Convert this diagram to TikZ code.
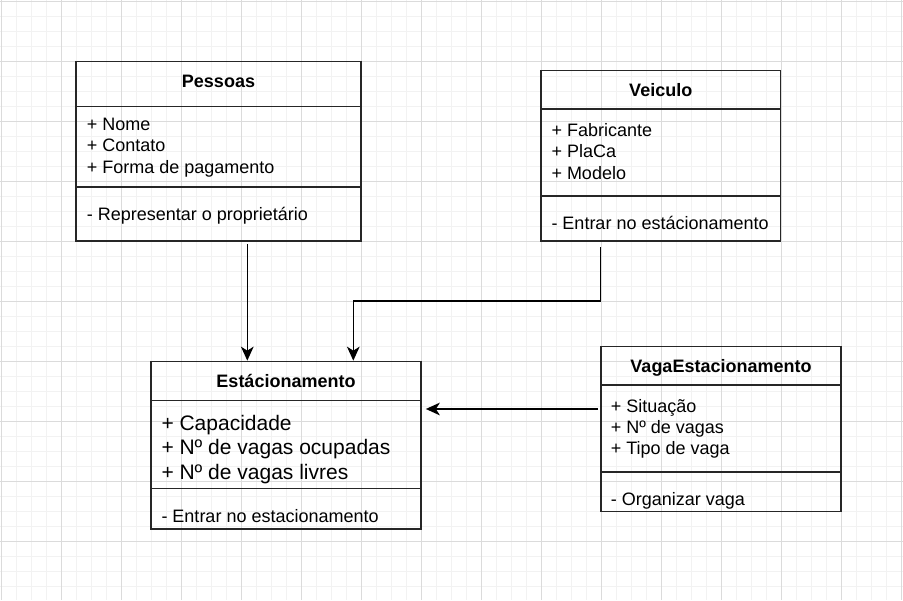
\documentclass[tikz,border=0pt]{standalone}
\usepackage{fontspec}
\setmainfont{Liberation Sans}
\usetikzlibrary{arrows.meta}

\begin{document}
\begin{tikzpicture}[x=0.75pt, y=-0.75pt,
%scale = 1,
line width=1.2pt]
    \tikzstyle{cls}=[draw=black!85, inner sep=0pt, line width=1.3pt]
    \tikzstyle{sep}=[draw=black!85, line width=1.3pt]
    \tikzstyle{ttl}=[font=\bfseries\fontsize{13.5pt}{16pt}\selectfont, anchor=base, inner sep=0pt]
    \tikzstyle{attr}=[font=\fontsize{13.5pt}{16pt}\selectfont, anchor=base west, inner sep=0pt]
    \tikzstyle{big attr}=[attr, font=\fontsize{15.75pt}{19pt}\selectfont]
    \tikzstyle{arr}=[-{Stealth[length=10.5pt,width=9.5pt,inset=3pt]}, black, line width=1.2pt]
    \tikzstyle{minor}=[draw=black!5, line width=0.75pt]
    \tikzstyle{major}=[draw=black!14, line width=0.75pt]

\useasboundingbox (0,0) rectangle (903,600);
\fill[white] (0,0) rectangle (903,600);
% grid
\foreach \g in {1.7,16.7,...,901.7}{
\draw[minor] (\g,0) -- (\g,600);
};
\foreach \g in {1.7,16.7,...,598}{
\draw[minor] (0,\g) -- (903,\g);
};
\foreach \g in {1.7,61.7,...,901.7}{
\draw[major] (\g,0) -- (\g,600);
};
\foreach \g in {1.7,61.7,...,598}{
\draw[major] (0,\g) -- (903,\g);
};

% classes
\node[cls, minimum width=213.75pt, minimum height=134.6pt] (pessoas) at (218.5,151.25) {};
\node[cls, minimum width=179.6pt, minimum height=127.9pt] (veiculo) at (660.75,155.75) {};
\node[cls, minimum width=202.5pt, minimum height=125.6pt] (estac) at (286,445.25) {};
\node[cls, minimum width=180pt, minimum height=123.75pt] (vaga) at (721,429) {};
\foreach \b/\s in {pessoas/106.5, pessoas/187, veiculo/109, veiculo/196,
                   estac/400.5, estac/488.5, vaga/385, vaga/472}{
\draw[sep] (\b.west |- 0,\s) -- (\b.east |- 0,\s);
};

% Pessoas
\node[ttl] (pessoasT) at (218.5,87.3) {Pessoas};
\foreach \t [count=\i] in {Nome, Contato, Forma de pagamento}{
\node[attr] (pessoasA\i) at (86,{130+21.5*(\i-1)}) {+ \t};
};
\node[attr] (pessoasM) at (86,220) {- Representar o proprietário};

% Veiculo
\node[ttl] (veiculoT) at (660.75,96.7) {Veiculo};
\foreach \t [count=\i] in {Fabricante, PlaCa, Modelo}{
\node[attr] (veiculoA\i) at (550.7,{136+21.5*(\i-1)}) {+ \t};
};
\node[attr] (veiculoM) at (550.7,229) {- Entrar no estácionamento};

% Estacionamento
\node[ttl] (estacT) at (286,387.3) {Estácionamento};
\foreach \t [count=\i] in {Capacidade, Nº de vagas ocupadas, Nº de vagas livres}{
\node[big attr] (estacA\i) at (160.7,{430+24.7*(\i-1)}) {+ \t};
};
\node[attr] (estacM) at (160.7,522.3) {- Entrar no estacionamento};

% VagaEstacionamento
\node[ttl] (vagaT) at (721,372.3) {VagaEstacionamento};
\foreach \t [count=\i] in {Situação, Nº de vagas, Tipo de vaga}{
\node[attr] (vagaA\i) at (610,{412.3+21.2*(\i-1)}) {+ \t};
};
\node[attr] (vagaM) at (610,505) {- Organizar vaga};

% connectors
\coordinate (p1) at (247.3,244);
\coordinate (v1) at (600.3,247);
\coordinate (v2) at (353.3,301);
\coordinate (g1) at (598,409);
\draw[arr] (p1) -- (p1 |- estac.north);
\draw[arr] (v1) -- (v1 |- v2) -- (v2) -- (v2 |- estac.north);
\draw[arr] (g1) -- ([xshift=3pt]g1 -| estac.east);
\end{tikzpicture}
\end{document}
